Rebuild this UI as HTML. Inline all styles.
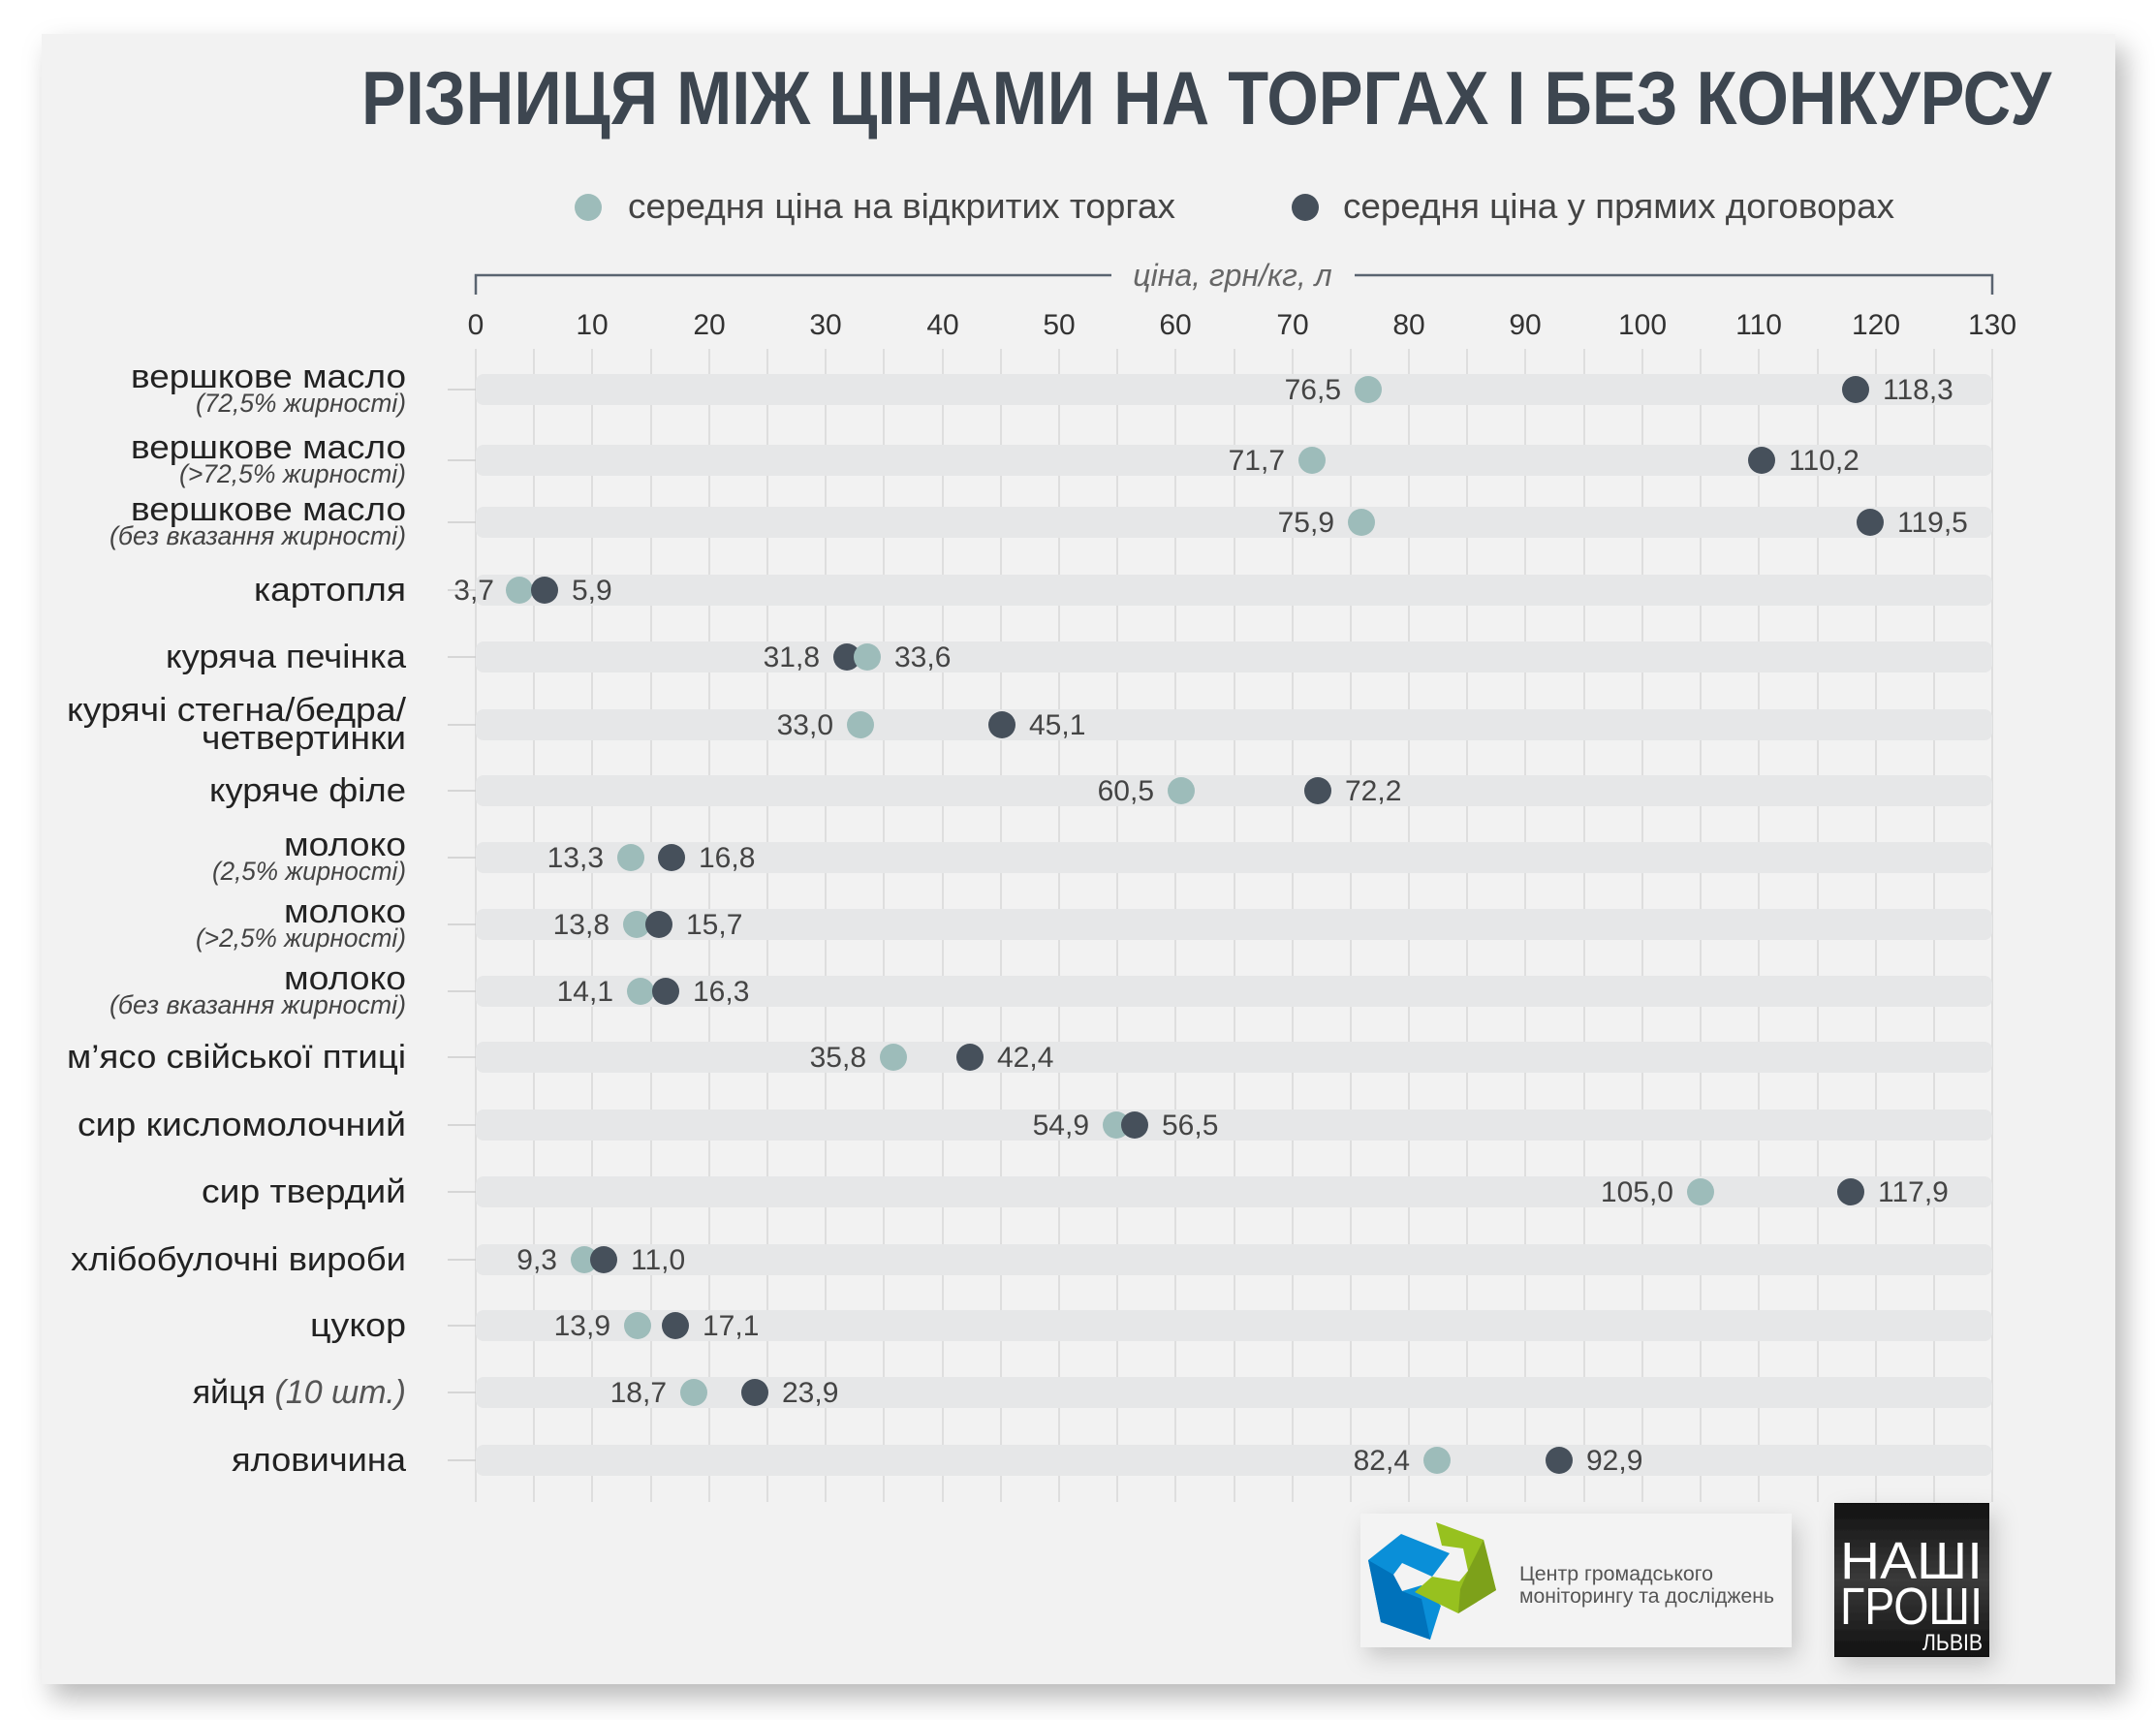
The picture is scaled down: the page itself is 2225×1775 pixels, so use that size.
<!DOCTYPE html>
<html><head><meta charset="utf-8"><style>
html,body{margin:0;padding:0;background:#fff;}
svg{display:block;}
text{font-family:"Liberation Sans",sans-serif;}
</style></head><body>
<svg width="2225" height="1775" viewBox="0 0 2225 1775" xmlns="http://www.w3.org/2000/svg">
<defs>
<filter id="sh" x="-5%" y="-5%" width="112%" height="115%"><feDropShadow dx="10" dy="14" stdDeviation="14" flood-color="#000" flood-opacity="0.28"/></filter>
<filter id="sh2" x="-10%" y="-10%" width="130%" height="140%"><feDropShadow dx="6" dy="10" stdDeviation="12" flood-color="#000" flood-opacity="0.18"/></filter>
<linearGradient id="bk" x1="0" y1="0" x2="0" y2="1"><stop offset="0" stop-color="#111"/><stop offset="0.5" stop-color="#3a3a3a"/><stop offset="1" stop-color="#111"/></linearGradient>
</defs>
<rect x="43" y="35" width="2140" height="1703" fill="#f2f2f2" filter="url(#sh)"/>
<text x="373" y="128" font-size="78" font-weight="bold" fill="#3d4650" textLength="1744" lengthAdjust="spacingAndGlyphs">РІЗНИЦЯ МІЖ ЦІНАМИ НА ТОРГАХ І БЕЗ КОНКУРСУ</text>
<circle cx="607" cy="214" r="14" fill="#9dbcba"/>
<text x="648" y="225" font-size="36" fill="#444" textLength="565" lengthAdjust="spacingAndGlyphs">середня ціна на відкритих торгах</text>
<circle cx="1347" cy="214" r="14" fill="#46505b"/>
<text x="1386" y="225" font-size="36" fill="#444" textLength="569" lengthAdjust="spacingAndGlyphs">середня ціна у прямих договорах</text>
<path d="M491 304 V284 H1147 M1398 284 H2056 V304" stroke="#5a6470" stroke-width="2.5" fill="none"/>
<text x="1272" y="295" font-size="32" font-style="italic" fill="#666" text-anchor="middle">ціна, грн/кг, л</text>
<g font-size="30" fill="#333" text-anchor="middle">
<text x="491" y="345">0</text><text x="611" y="345">10</text><text x="732" y="345">20</text><text x="852" y="345">30</text><text x="973" y="345">40</text><text x="1093" y="345">50</text><text x="1213" y="345">60</text><text x="1334" y="345">70</text><text x="1454" y="345">80</text><text x="1574" y="345">90</text><text x="1695" y="345">100</text><text x="1815" y="345">110</text><text x="1936" y="345">120</text><text x="2056" y="345">130</text>
</g>
<g stroke="#d8d8d8" stroke-width="1.5">
<line x1="491" y1="360" x2="491" y2="1550"/><line x1="551" y1="360" x2="551" y2="1550"/><line x1="611" y1="360" x2="611" y2="1550"/><line x1="672" y1="360" x2="672" y2="1550"/><line x1="732" y1="360" x2="732" y2="1550"/><line x1="792" y1="360" x2="792" y2="1550"/><line x1="852" y1="360" x2="852" y2="1550"/><line x1="912" y1="360" x2="912" y2="1550"/><line x1="973" y1="360" x2="973" y2="1550"/><line x1="1033" y1="360" x2="1033" y2="1550"/><line x1="1093" y1="360" x2="1093" y2="1550"/><line x1="1153" y1="360" x2="1153" y2="1550"/><line x1="1213" y1="360" x2="1213" y2="1550"/><line x1="1274" y1="360" x2="1274" y2="1550"/><line x1="1334" y1="360" x2="1334" y2="1550"/><line x1="1394" y1="360" x2="1394" y2="1550"/><line x1="1454" y1="360" x2="1454" y2="1550"/><line x1="1514" y1="360" x2="1514" y2="1550"/><line x1="1574" y1="360" x2="1574" y2="1550"/><line x1="1635" y1="360" x2="1635" y2="1550"/><line x1="1695" y1="360" x2="1695" y2="1550"/><line x1="1755" y1="360" x2="1755" y2="1550"/><line x1="1815" y1="360" x2="1815" y2="1550"/><line x1="1876" y1="360" x2="1876" y2="1550"/><line x1="1936" y1="360" x2="1936" y2="1550"/><line x1="1996" y1="360" x2="1996" y2="1550"/><line x1="2056" y1="360" x2="2056" y2="1550"/>
</g>
<g fill="#e6e7e8">
<rect x="491" y="386" width="1565" height="32" rx="8"/><rect x="491" y="459" width="1565" height="32" rx="8"/><rect x="491" y="523" width="1565" height="32" rx="8"/><rect x="491" y="593" width="1565" height="32" rx="8"/><rect x="491" y="662" width="1565" height="32" rx="8"/><rect x="491" y="732" width="1565" height="32" rx="8"/><rect x="491" y="800" width="1565" height="32" rx="8"/><rect x="491" y="869" width="1565" height="32" rx="8"/><rect x="491" y="938" width="1565" height="32" rx="8"/><rect x="491" y="1007" width="1565" height="32" rx="8"/><rect x="491" y="1075" width="1565" height="32" rx="8"/><rect x="491" y="1145" width="1565" height="32" rx="8"/><rect x="491" y="1214" width="1565" height="32" rx="8"/><rect x="491" y="1284" width="1565" height="32" rx="8"/><rect x="491" y="1352" width="1565" height="32" rx="8"/><rect x="491" y="1421" width="1565" height="32" rx="8"/><rect x="491" y="1491" width="1565" height="32" rx="8"/>
</g>
<g stroke="#ccc" stroke-width="1.5">
<line x1="462" y1="402" x2="491" y2="402"/><line x1="462" y1="475" x2="491" y2="475"/><line x1="462" y1="539" x2="491" y2="539"/><line x1="462" y1="609" x2="491" y2="609"/><line x1="462" y1="678" x2="491" y2="678"/><line x1="462" y1="748" x2="491" y2="748"/><line x1="462" y1="816" x2="491" y2="816"/><line x1="462" y1="885" x2="491" y2="885"/><line x1="462" y1="954" x2="491" y2="954"/><line x1="462" y1="1023" x2="491" y2="1023"/><line x1="462" y1="1091" x2="491" y2="1091"/><line x1="462" y1="1161" x2="491" y2="1161"/><line x1="462" y1="1230" x2="491" y2="1230"/><line x1="462" y1="1300" x2="491" y2="1300"/><line x1="462" y1="1368" x2="491" y2="1368"/><line x1="462" y1="1437" x2="491" y2="1437"/><line x1="462" y1="1507" x2="491" y2="1507"/>
</g>
<g font-size="34" fill="#222" text-anchor="end">
<text x="419" y="400" textLength="284" lengthAdjust="spacingAndGlyphs">вершкове масло</text>
<text x="419" y="473" textLength="284" lengthAdjust="spacingAndGlyphs">вершкове масло</text>
<text x="419" y="537" textLength="284" lengthAdjust="spacingAndGlyphs">вершкове масло</text>
<text x="419" y="620" textLength="157" lengthAdjust="spacingAndGlyphs">картопля</text>
<text x="419" y="689" textLength="248" lengthAdjust="spacingAndGlyphs">куряча печінка</text>
<text x="419" y="744" textLength="350" lengthAdjust="spacingAndGlyphs">курячі стегна/бедра/</text>
<text x="419" y="773" textLength="211" lengthAdjust="spacingAndGlyphs">четвертинки</text>
<text x="419" y="827" textLength="203" lengthAdjust="spacingAndGlyphs">куряче філе</text>
<text x="419" y="883" textLength="126" lengthAdjust="spacingAndGlyphs">молоко</text>
<text x="419" y="952" textLength="126" lengthAdjust="spacingAndGlyphs">молоко</text>
<text x="419" y="1021" textLength="126" lengthAdjust="spacingAndGlyphs">молоко</text>
<text x="419" y="1102" textLength="350" lengthAdjust="spacingAndGlyphs">м’ясо свійської птиці</text>
<text x="419" y="1172" textLength="339" lengthAdjust="spacingAndGlyphs">сир кисломолочний</text>
<text x="419" y="1241" textLength="211" lengthAdjust="spacingAndGlyphs">сир твердий</text>
<text x="419" y="1311" textLength="346" lengthAdjust="spacingAndGlyphs">хлібобулочні вироби</text>
<text x="419" y="1379" textLength="99" lengthAdjust="spacingAndGlyphs">цукор</text>
<text x="419" y="1448">яйця <tspan font-style="italic" fill="#555">(10 шт.)</tspan></text>
<text x="419" y="1518" textLength="180" lengthAdjust="spacingAndGlyphs">яловичина</text>
</g>
<g font-size="27" font-style="italic" fill="#444" text-anchor="end">
<text x="419" y="425" textLength="217" lengthAdjust="spacingAndGlyphs">(72,5% жирності)</text>
<text x="419" y="498" textLength="234" lengthAdjust="spacingAndGlyphs">(&gt;72,5% жирності)</text>
<text x="419" y="562" textLength="306" lengthAdjust="spacingAndGlyphs">(без вказання жирності)</text>
<text x="419" y="908" textLength="200" lengthAdjust="spacingAndGlyphs">(2,5% жирності)</text>
<text x="419" y="977" textLength="217" lengthAdjust="spacingAndGlyphs">(&gt;2,5% жирності)</text>
<text x="419" y="1046" textLength="306" lengthAdjust="spacingAndGlyphs">(без вказання жирності)</text>
</g>
<g>
<circle cx="1412" cy="402" r="14" fill="#9dbcba"/><circle cx="1915" cy="402" r="14" fill="#46505b"/>
<circle cx="1354" cy="475" r="14" fill="#9dbcba"/><circle cx="1818" cy="475" r="14" fill="#46505b"/>
<circle cx="1405" cy="539" r="14" fill="#9dbcba"/><circle cx="1930" cy="539" r="14" fill="#46505b"/>
<circle cx="536" cy="609" r="14" fill="#9dbcba"/><circle cx="562" cy="609" r="14" fill="#46505b"/>
<circle cx="874" cy="678" r="14" fill="#46505b"/><circle cx="895" cy="678" r="14" fill="#9dbcba"/>
<circle cx="888" cy="748" r="14" fill="#9dbcba"/><circle cx="1034" cy="748" r="14" fill="#46505b"/>
<circle cx="1219" cy="816" r="14" fill="#9dbcba"/><circle cx="1360" cy="816" r="14" fill="#46505b"/>
<circle cx="651" cy="885" r="14" fill="#9dbcba"/><circle cx="693" cy="885" r="14" fill="#46505b"/>
<circle cx="657" cy="954" r="14" fill="#9dbcba"/><circle cx="680" cy="954" r="14" fill="#46505b"/>
<circle cx="661" cy="1023" r="14" fill="#9dbcba"/><circle cx="687" cy="1023" r="14" fill="#46505b"/>
<circle cx="922" cy="1091" r="14" fill="#9dbcba"/><circle cx="1001" cy="1091" r="14" fill="#46505b"/>
<circle cx="1152" cy="1161" r="14" fill="#9dbcba"/><circle cx="1171" cy="1161" r="14" fill="#46505b"/>
<circle cx="1755" cy="1230" r="14" fill="#9dbcba"/><circle cx="1910" cy="1230" r="14" fill="#46505b"/>
<circle cx="603" cy="1300" r="14" fill="#9dbcba"/><circle cx="623" cy="1300" r="14" fill="#46505b"/>
<circle cx="658" cy="1368" r="14" fill="#9dbcba"/><circle cx="697" cy="1368" r="14" fill="#46505b"/>
<circle cx="716" cy="1437" r="14" fill="#9dbcba"/><circle cx="779" cy="1437" r="14" fill="#46505b"/>
<circle cx="1483" cy="1507" r="14" fill="#9dbcba"/><circle cx="1609" cy="1507" r="14" fill="#46505b"/>
</g>
<g font-size="30" fill="#444">
<g text-anchor="end">
<text x="1384" y="412">76,5</text><text x="1326" y="485">71,7</text><text x="1377" y="549">75,9</text><text x="510" y="619">3,7</text><text x="846" y="688">31,8</text><text x="860" y="758">33,0</text><text x="1191" y="826">60,5</text><text x="623" y="895">13,3</text><text x="629" y="964">13,8</text><text x="633" y="1033">14,1</text><text x="894" y="1101">35,8</text><text x="1124" y="1171">54,9</text><text x="1727" y="1240">105,0</text><text x="575" y="1310">9,3</text><text x="630" y="1378">13,9</text><text x="688" y="1447">18,7</text><text x="1455" y="1517">82,4</text>
</g>
<text x="1943" y="412">118,3</text><text x="1846" y="485">110,2</text><text x="1958" y="549">119,5</text><text x="590" y="619">5,9</text><text x="923" y="688">33,6</text><text x="1062" y="758">45,1</text><text x="1388" y="826">72,2</text><text x="721" y="895">16,8</text><text x="708" y="964">15,7</text><text x="715" y="1033">16,3</text><text x="1029" y="1101">42,4</text><text x="1199" y="1171">56,5</text><text x="1938" y="1240">117,9</text><text x="651" y="1310">11,0</text><text x="725" y="1378">17,1</text><text x="807" y="1447">23,9</text><text x="1637" y="1517">92,9</text>
</g>
<rect x="1404" y="1562" width="445" height="138" fill="#f3f3f3" filter="url(#sh2)"/>
<polygon points="1447,1642 1467,1636 1487,1657 1476,1692 1425,1674 1412,1610 1446,1583 1496,1603 1478,1627 1447,1613 1438,1625" fill="#0a8fd8"/>
<polygon points="1447,1642 1438,1625 1412,1610 1425,1674 1476,1692 1467,1650" fill="#0072bb"/>
<polygon points="1510,1598 1488,1595 1482,1571 1531,1589 1544,1641 1505,1665 1460,1643 1478,1627 1506,1632 1515,1621" fill="#97c11f"/>
<polygon points="1515,1621 1531,1589 1544,1641 1505,1665 1507,1640" fill="#7da11a"/>
<text x="1568" y="1631" font-size="21" fill="#555" textLength="200" lengthAdjust="spacingAndGlyphs">Центр громадського</text>
<text x="1568" y="1654" font-size="21" fill="#555" textLength="263" lengthAdjust="spacingAndGlyphs">моніторингу та досліджень</text>
<rect x="1893" y="1551" width="160" height="159" fill="url(#bk)" filter="url(#sh2)"/>
<text x="1899" y="1629" font-size="54" fill="#fff" textLength="147" lengthAdjust="spacingAndGlyphs">НАШІ</text>
<text x="1899" y="1676" font-size="54" fill="#fff" textLength="147" lengthAdjust="spacingAndGlyphs">ГРОШІ</text>
<text x="2046" y="1703" font-size="24" fill="#fff" text-anchor="end" textLength="62" lengthAdjust="spacingAndGlyphs">ЛЬВІВ</text>
</svg>
</body></html>
